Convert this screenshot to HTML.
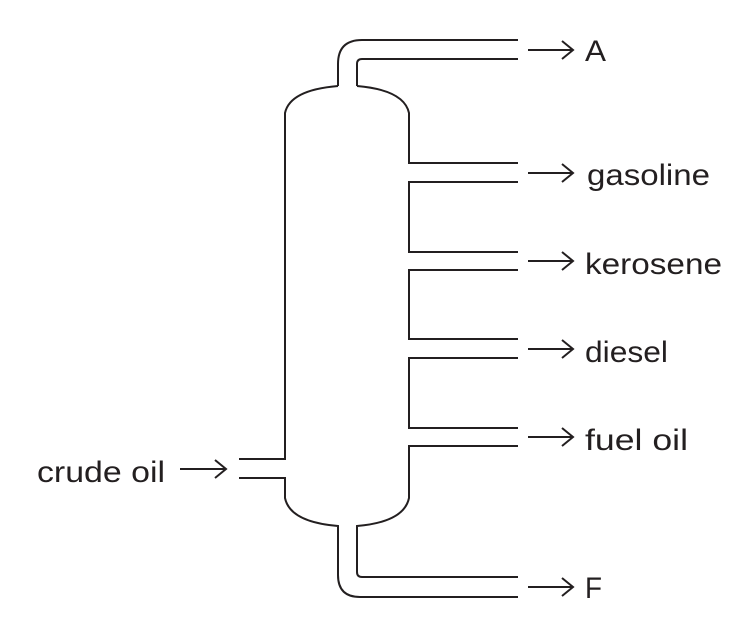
<!DOCTYPE html>
<html><head><meta charset="utf-8"><style>
html,body{margin:0;padding:0;background:#fff;}
svg{display:block;}
text{font-family:"Liberation Sans",sans-serif;font-size:30px;fill:#231f20;}
</style></head><body>
<svg width="746" height="637" viewBox="0 0 746 637" xmlns="http://www.w3.org/2000/svg">
<g fill="none" stroke="#231f20" stroke-width="2">
<path d="M518 40 H362 Q338 40 338 64 V86"/>
<path d="M518 59 H362 Q357 59 357 64 V86"/>
<path d="M338 86 Q290 90 285 113 V459 H239"/>
<path d="M239 478 H285 V498 Q290 522 338 526 V575 Q338 597 360 597 H518"/>
<path d="M518 577 H362 Q357 577 357 572 V526 Q404 522 409 498 V446 H518"/>
<path d="M357 86 Q404 90 409 113 V163 H518"/>
<path d="M518 182 H409 V252 H518"/>
<path d="M518 270 H409 V339 H518"/>
<path d="M518 358 H409 V428 H518"/>
</g>
<g fill="none" stroke="#231f20" stroke-width="2">
<path d="M528 50 H573 M562 41 L573 50 L562 59"/>
<path d="M528 173 H573 M562 164 L573 173 L562 182"/>
<path d="M528 261 H573 M562 252 L573 261 L562 270"/>
<path d="M528 349 H573 M562 340 L573 349 L562 358"/>
<path d="M528 437 H573 M562 428 L573 437 L562 446"/>
<path d="M528 587 H573 M562 578 L573 587 L562 596"/>
<path d="M180 469 H226 M215 460 L226 469 L215 478"/>
</g>
<text x="585" y="61" textLength="21" lengthAdjust="spacingAndGlyphs">A</text>
<text x="587" y="185" textLength="123" lengthAdjust="spacingAndGlyphs">gasoline</text>
<text x="585" y="274" textLength="137" lengthAdjust="spacingAndGlyphs">kerosene</text>
<text x="585" y="362" textLength="83" lengthAdjust="spacingAndGlyphs">diesel</text>
<text x="585" y="450" textLength="103" lengthAdjust="spacingAndGlyphs">fuel oil</text>
<text x="585" y="598" textLength="17" lengthAdjust="spacingAndGlyphs">F</text>
<text x="37" y="482" textLength="128" lengthAdjust="spacingAndGlyphs">crude oil</text>
</svg>
</body></html>
